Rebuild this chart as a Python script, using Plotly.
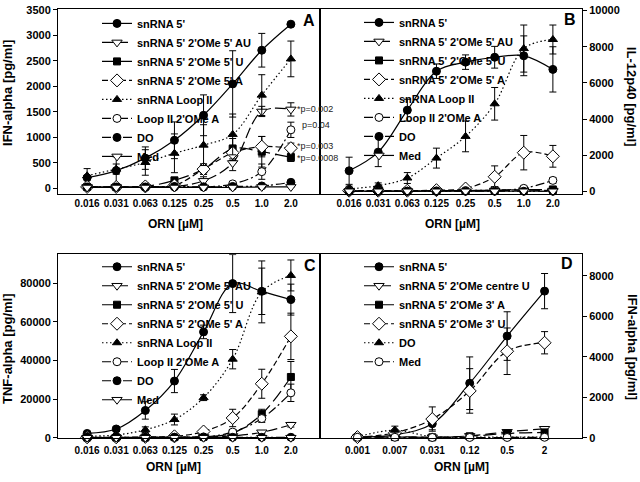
import plotly.graph_objects as go

# ---------------- data ----------------
doses_abc = ["0.016", "0.031", "0.063", "0.125", "0.25", "0.5", "1.0", "2.0"]
doses_d = ["0.001", "0.007", "0.031", "0.12", "0.5", "2"]

names_abc = ["snRNA 5'", "snRNA 5' 2'OMe 5' AU", "snRNA 5' 2'OMe 5' U",
             "snRNA 5' 2'OMe 5' A", "snRNA Loop II", "Loop II 2'OMe A", "DO", "Med"]
names_d = ["snRNA 5'", "snRNA 5' 2'OMe centre U", "snRNA 5' 2'OMe 3' A",
           "snRNA 5' 2'OMe 3' U", "DO", "Med"]

# Panel A: IFN-alpha [pg/ml]
a_snrna5 = [210, 350, 595, 945, 1435, 2050, 2710, 3220]
a_snrna5_err = [180, 270, 220, 360, 400, 650, 330, 0]
a_au = [30, 30, 30, 40, 150, 500, 1510, 1550]
a_au_err = [0, 0, 0, 0, 80, 150, 100, 130]
a_u = [30, 30, 40, 160, 380, 780, 720, 610]
a_u_err = [0, 0, 0, 50, 100, 200, 300, 80]
a_a = [30, 30, 40, 60, 380, 700, 820, 790]
a_a_err = [0, 0, 0, 30, 100, 150, 200, 100]
a_loop2 = [250, 380, 510, 690, 850, 1060, 1830, 2540]
a_loop2_err = [0, 100, 250, 380, 400, 400, 400, 350]
a_loop2a = [20, 20, 20, 30, 30, 90, 330, 1150]
a_loop2a_err = [0, 0, 0, 0, 0, 30, 150, 150]
a_do = [30, 30, 30, 40, 30, 40, 50, 120]
a_do_err = [0, 0, 0, 0, 0, 0, 0, 0]
a_med = [20, 20, 20, 20, 20, 20, 30, 30]
a_med_err = [0, 0, 0, 0, 0, 0, 0, 0]

# Panel B: IL-12p40 [pg/ml]
b_snrna5 = [1150, 2180, 4500, 6650, 7150, 7420, 7500, 6750]
b_snrna5_err = [750, 800, 600, 400, 400, 600, 1100, 1250]
b_au = [20, 20, 30, 40, 50, 60, 80, 60]
b_au_err = [0, 0, 0, 0, 0, 0, 0, 0]
b_u = [30, 30, 40, 50, 60, 80, 100, 120]
b_u_err = [0, 0, 0, 0, 0, 0, 0, 0]
b_a = [50, 50, 50, 80, 170, 820, 2150, 1950]
b_a_err = [0, 0, 0, 0, 50, 600, 950, 600]
b_loop2 = [150, 330, 750, 1850, 3050, 4850, 7900, 8400]
b_loop2_err = [150, 150, 300, 550, 850, 900, 1300, 800]
b_loop2a = [30, 30, 30, 40, 60, 80, 180, 620]
b_loop2a_err = [0, 0, 0, 0, 0, 0, 50, 150]
b_do = [20, 20, 20, 20, 20, 20, 20, 20]
b_do_err = [0, 0, 0, 0, 0, 0, 0, 0]
b_med = [20, 20, 20, 20, 20, 20, 20, 20]
b_med_err = [0, 0, 0, 0, 0, 0, 0, 0]

# Panel C: TNF-alpha [pg/ml]
c_snrna5 = [2300, 4600, 14200, 29400, 54800, 79800, 75800, 71500]
c_snrna5_err = [500, 1000, 4500, 6000, 3500, 15000, 12000, 8000]
c_au = [200, 200, 200, 300, 500, 1000, 2900, 6800]
c_au_err = [0, 0, 0, 0, 0, 0, 500, 1200]
c_u = [200, 200, 200, 400, 600, 2500, 12300, 31500]
c_u_err = [0, 0, 0, 0, 0, 500, 2500, 8000]
c_a = [300, 300, 500, 800, 3300, 10300, 28000, 52500]
c_a_err = [0, 0, 0, 0, 500, 4500, 7500, 12000]
c_loop2 = [900, 1500, 4200, 9500, 20800, 40700, 75500, 84000]
c_loop2_err = [0, 0, 1500, 2800, 1500, 5000, 16000, 8000]
c_loop2a = [200, 200, 200, 300, 500, 3000, 10000, 23300]
c_loop2a_err = [0, 0, 0, 0, 0, 1000, 2000, 4500]
c_do = [300, 300, 300, 300, 300, 300, 300, 300]
c_do_err = [0, 0, 0, 0, 0, 0, 0, 0]
c_med = [100, 100, 100, 100, 100, 100, 100, 100]
c_med_err = [0, 0, 0, 0, 0, 0, 0, 0]

# Panel D: IFN-alpha [pg/ml]
d_snrna5 = [50, 150, 700, 2700, 5030, 7250]
d_snrna5_err = [0, 100, 300, 1300, 1200, 870]
d_centreu = [30, 60, 30, 100, 300, 450]
d_centreu_err = [0, 0, 0, 50, 80, 100]
d_3a = [30, 40, 30, 80, 220, 270]
d_3a_err = [0, 0, 0, 0, 50, 60]
d_3u = [40, 250, 930, 2320, 4280, 4700]
d_3u_err = [0, 100, 600, 1100, 1150, 550]
d_do = [50, 380, 50, 40, 40, 40]
d_do_err = [0, 200, 0, 0, 0, 0]
d_med = [30, 30, 20, 20, 20, 30]
d_med_err = [0, 0, 0, 0, 0, 0]

# ---------------- styles ----------------
FONT = "Liberation Sans, Arial, sans-serif"
style_abc = [
    dict(symbol="circle", fill="black", dash="solid", size=8),
    dict(symbol="triangle-down", fill="white", dash="11px,4px", size=9),
    dict(symbol="square", fill="black", dash="13px,5px", size=7),
    dict(symbol="diamond", fill="white", dash="6px,3px", size=10),
    dict(symbol="triangle-up", fill="black", dash="1.5px,2.5px", size=8),
    dict(symbol="circle", fill="white", dash="9px,3px,2px,3px", size=8),
    dict(symbol="circle", fill="black", dash="9px,3px,2px,2px,2px,3px", size=8),
    dict(symbol="triangle-down", fill="white", dash="solid", size=9),
]
style_d = [
    dict(symbol="circle", fill="black", dash="solid", size=8),
    dict(symbol="triangle-down", fill="white", dash="11px,5px", size=9),
    dict(symbol="square", fill="black", dash="13px,5px", size=7),
    dict(symbol="diamond", fill="white", dash="6px,3px", size=10),
    dict(symbol="triangle-up", fill="black", dash="1.5px,2.5px", size=8),
    dict(symbol="circle", fill="white", dash="9px,3px,2px,3px", size=8),
]

fig = go.Figure()


def add_panel(xcats, series, errs, names, styles, xa, ya, legend):
    for vals, err, name, st in zip(series, errs, names, styles):
        fig.add_trace(go.Scatter(
            x=xcats, y=vals, name=name, mode="lines+markers",
            xaxis=xa, yaxis=ya, legend=legend, cliponaxis=False,
            line=dict(color="black", width=1.2, dash=st["dash"], shape="spline", smoothing=1),
            marker=dict(symbol=st["symbol"], size=st["size"], color=st["fill"],
                        line=dict(color="black", width=1)),
            error_y=dict(type="data", array=err, visible=True, color="black",
                         thickness=1, width=3.5),
        ))


add_panel(doses_abc,
          [a_snrna5, a_au, a_u, a_a, a_loop2, a_loop2a, a_do, a_med],
          [a_snrna5_err, a_au_err, a_u_err, a_a_err, a_loop2_err, a_loop2a_err, a_do_err, a_med_err],
          names_abc, style_abc, "x", "y", "legend")
add_panel(doses_abc,
          [b_snrna5, b_au, b_u, b_a, b_loop2, b_loop2a, b_do, b_med],
          [b_snrna5_err, b_au_err, b_u_err, b_a_err, b_loop2_err, b_loop2a_err, b_do_err, b_med_err],
          names_abc, style_abc, "x2", "y2", "legend2")
add_panel(doses_abc,
          [c_snrna5, c_au, c_u, c_a, c_loop2, c_loop2a, c_do, c_med],
          [c_snrna5_err, c_au_err, c_u_err, c_a_err, c_loop2_err, c_loop2a_err, c_do_err, c_med_err],
          names_abc, style_abc, "x3", "y3", "legend3")
add_panel(doses_d,
          [d_snrna5, d_centreu, d_3a, d_3u, d_do, d_med],
          [d_snrna5_err, d_centreu_err, d_3a_err, d_3u_err, d_do_err, d_med_err],
          names_d, style_d, "x4", "y4", "legend4")

W, H = 640, 482


def px_x(v):
    return v / W


def px_y(v):
    return 1 - v / H


tickfont_y = dict(family=FONT, size=11, color="black", weight="bold")
tickfont_x = dict(family=FONT, size=10, color="black", weight="bold")

xcommon = dict(type="category", showline=True, linecolor="black", linewidth=1, mirror=True,
               ticks="", ticklen=0, showgrid=False, zeroline=False, tickfont=tickfont_x)
ycommon = dict(showline=True, linecolor="black", linewidth=1, mirror=True,
               ticks="outside", ticklen=4, tickwidth=1, tickcolor="black",
               showgrid=False, zeroline=False, tickfont=tickfont_y, tickformat="d",
               ticklabeloverflow="allow")

dom_left = [px_x(58), px_x(320)]
dom_right = [px_x(320), px_x(582)]
dom_top = [px_y(193), px_y(4)]
dom_bot = [px_y(443), px_y(255)]

legend_common = dict(bgcolor="rgba(0,0,0,0)", borderwidth=0, xanchor="left", yanchor="top",
                     font=dict(family=FONT, size=11, color="black", weight="bold"),
                     tracegroupgap=0, itemclick=False)

fig.update_layout(
    width=W, height=H, margin=dict(l=0, r=0, t=0, b=0),
    paper_bgcolor="white", plot_bgcolor="white", showlegend=True,
    xaxis=dict(domain=dom_left, anchor="y", range=[-1, 8], **xcommon),
    yaxis=dict(domain=dom_top, anchor="x", range=[-100, 3520],
               tickvals=[0, 500, 1000, 1500, 2000, 2500, 3000, 3500], **ycommon),
    xaxis2=dict(domain=dom_right, anchor="y2", range=[-1, 8], **xcommon),
    yaxis2=dict(domain=dom_top, anchor="x2", side="right", range=[-110, 10090],
                tickvals=[0, 2000, 4000, 6000, 8000, 10000], **ycommon),
    xaxis3=dict(domain=dom_left, anchor="y3", range=[-1, 8], ticklabelstandoff=3, **xcommon),
    yaxis3=dict(domain=dom_bot, anchor="x3", range=[0, 95000],
                tickvals=[0, 20000, 40000, 60000, 80000], **ycommon),
    xaxis4=dict(domain=dom_right, anchor="y4", range=[-1, 6], ticklabelstandoff=3, **xcommon),
    yaxis4=dict(domain=dom_bot, anchor="x4", side="right", range=[0, 9075],
                tickvals=[0, 2000, 4000, 6000, 8000], **ycommon),
    legend=dict(x=px_x(97), y=px_y(4), **legend_common),
    legend2=dict(x=px_x(359), y=px_y(3), **legend_common),
    legend3=dict(x=px_x(97), y=px_y(253), **legend_common),
    legend4=dict(x=px_x(359), y=px_y(253), **legend_common),
)

ann = []
title_font = dict(family=FONT, size=13, color="black", weight="bold")
xt_font = dict(family=FONT, size=12, color="black", weight="bold")
ann.append(dict(text="IFN-alpha [pg/ml]", x=px_x(8), y=px_y(90), textangle=-90, font=title_font))
ann.append(dict(text="TNF-alpha [pg/ml]", x=px_x(8), y=px_y(352), textangle=-90, font=title_font))
ann.append(dict(text="IL-12p40 [pg/ml]", x=px_x(631), y=px_y(94), textangle=90, font=title_font))
ann.append(dict(text="IFN-alpha [pg/ml]", x=px_x(633), y=px_y(350), textangle=90, font=title_font))
ann.append(dict(text="ORN [µM]", x=px_x(175), y=px_y(224), font=xt_font))
ann.append(dict(text="ORN [µM]", x=px_x(452), y=px_y(224), font=xt_font))
ann.append(dict(text="ORN [µM]", x=px_x(173), y=px_y(473), font=xt_font))
ann.append(dict(text="ORN [µM]", x=px_x(461), y=px_y(473), font=xt_font))
letter_font = dict(family=FONT, size=16, color="black", weight="bold")
for letter, lx, ly in [("A", 309, 16), ("B", 570, 15), ("C", 310, 267), ("D", 567, 265)]:
    ann.append(dict(text=letter, x=px_x(lx), y=px_y(ly), font=letter_font))
for a in ann:
    a.update(xref="paper", yref="paper", showarrow=False, xanchor="center", yanchor="middle")

p_font = dict(family=FONT, size=9, color="#222222")
last_idx = len(doses_abc) - 1
pvals = [("*p=0.002", a_au[-1], 4, 0), ("p=0.04", a_loop2a[-1], 9, 5),
         ("*p=0.003", a_a[-1], 4, 2), ("*p=0.0008", a_u[-1], 4, -1)]
for txt, yv, xs, ys in pvals:
    ann.append(dict(text=txt, x=last_idx, y=yv, xref="x", yref="y", showarrow=False,
                    xanchor="left", yanchor="middle", xshift=xs, yshift=ys, font=p_font))

fig.update_layout(annotations=ann)
fig.write_html(
    "out.html",
    config={"displayModeBar": False},
    post_script="document.body.style.margin='0px';document.body.style.overflow='hidden';"
                "document.documentElement.style.overflow='hidden';",
)
